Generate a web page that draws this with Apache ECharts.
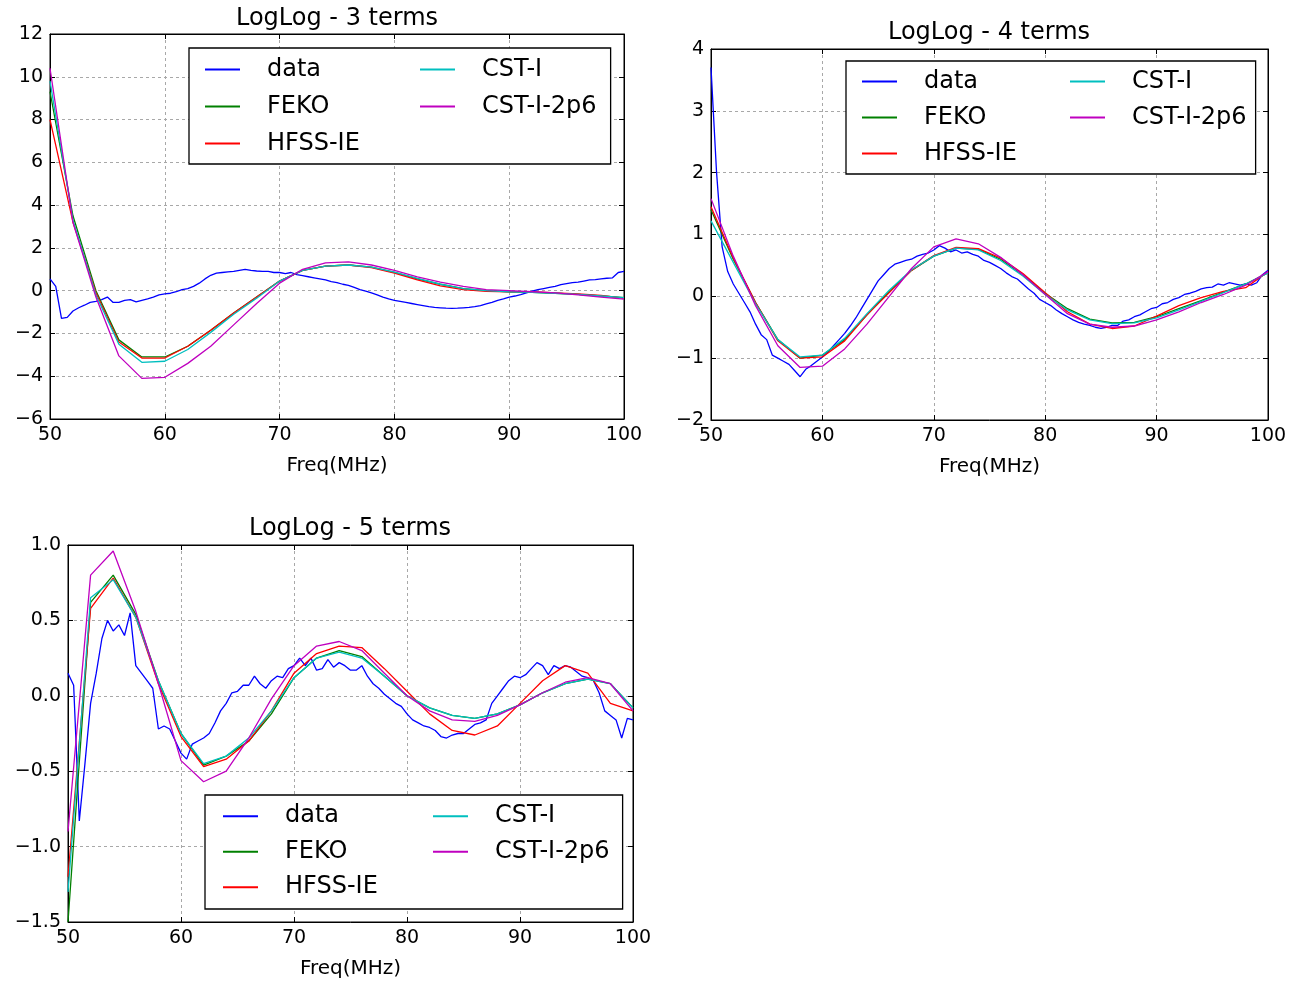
<!DOCTYPE html>
<html>
<head>
<meta charset="utf-8">
<script src="https://cdn.jsdelivr.net/npm/echarts@6/dist/echarts.min.js"></script>
<style>
  html, body { margin: 0; padding: 0; background: #fff; }
  #chart { width: 1299px; height: 982px; }
</style>
</head>
<body>
<div id="chart"></div>
<script>
// Series names and colours (classic matplotlib b, g, r, c, m)
const seriesNames = ['data', 'FEKO', 'HFSS-IE', 'CST-I', 'CST-I-2p6'];
const seriesColors = ['#0000ff', '#008000', '#ff0000', '#00bfbf', '#bf00bf'];

// Measured data: sampled every 0.5 MHz from 50 to 100 MHz
const freqFineStart = 50, freqFineStep = 0.5, freqFineCount = 101;
// Model curves: sampled every 2 MHz
const freqModel = [50, 52, 54, 56, 58, 60, 62, 64, 66, 68, 70, 72, 74, 76, 78, 80, 82, 84, 86, 88, 90, 92, 94, 96, 98, 100];

// ---- LogLog - 3 terms ----
const data3 = [
  0.55, 0.2, -1.3, -1.25, -0.95, -0.8, -0.68, -0.55, -0.5, -0.42,
  -0.3, -0.55, -0.55, -0.45, -0.42, -0.52, -0.45, -0.38, -0.3, -0.2,
  -0.15, -0.12, -0.05, 0.05, 0.1, 0.2, 0.35, 0.55, 0.72, 0.82,
  0.85, 0.88, 0.9, 0.95, 1.0, 0.95, 0.92, 0.9, 0.9, 0.85,
  0.85, 0.8, 0.85, 0.75, 0.7, 0.65, 0.6, 0.55, 0.5, 0.42,
  0.38, 0.3, 0.25, 0.15, 0.05, -0.02, -0.1, -0.2, -0.3, -0.38,
  -0.45, -0.5, -0.55, -0.6, -0.65, -0.7, -0.75, -0.78, -0.8, -0.82,
  -0.83, -0.82, -0.8, -0.78, -0.75, -0.7, -0.62, -0.55, -0.45, -0.38,
  -0.3, -0.25, -0.18, -0.1, -0.02, 0.05, 0.1, 0.15, 0.2, 0.28,
  0.33, 0.38, 0.4, 0.45, 0.5, 0.52, 0.55, 0.58, 0.6, 0.85,
  0.9
];
const feko3 = [9.3, 3.5, 0.0, -2.3, -3.1, -3.1, -2.6, -1.85, -1.05, -0.3, 0.45, 0.95, 1.15, 1.2, 1.1, 0.85, 0.55, 0.3, 0.1, 0.0, -0.05, -0.08, -0.12, -0.17, -0.25, -0.33];
const hfss3 = [8.0, 3.2, -0.1, -2.4, -3.15, -3.15, -2.6, -1.85, -1.05, -0.3, 0.45, 0.95, 1.15, 1.2, 1.08, 0.82, 0.5, 0.22, 0.05, -0.03, -0.05, -0.05, -0.1, -0.15, -0.22, -0.35];
const cst3 = [9.8, 3.3, -0.2, -2.5, -3.35, -3.3, -2.75, -1.95, -1.1, -0.35, 0.45, 0.95, 1.15, 1.2, 1.1, 0.87, 0.57, 0.3, 0.1, 0.0, -0.05, -0.08, -0.12, -0.17, -0.25, -0.33];
const cst2p6_3 = [10.4, 3.2, -0.3, -3.05, -4.1, -4.05, -3.4, -2.6, -1.6, -0.6, 0.35, 1.0, 1.3, 1.35, 1.2, 0.95, 0.65, 0.4, 0.2, 0.05, 0.0, -0.05, -0.1, -0.2, -0.3, -0.4];

// ---- LogLog - 4 terms ----
const data4 = [
  3.7, 2.0, 0.8, 0.4, 0.2, 0.05, -0.1, -0.25, -0.45, -0.62,
  -0.7, -0.95, -1.0, -1.05, -1.1, -1.2, -1.3, -1.18, -1.12, -1.05,
  -0.98, -0.9, -0.8, -0.7, -0.6, -0.48, -0.35, -0.2, -0.05, 0.1,
  0.25, 0.35, 0.45, 0.52, 0.55, 0.58, 0.6, 0.65, 0.68, 0.7,
  0.75, 0.82, 0.78, 0.72, 0.75, 0.7, 0.72, 0.68, 0.65, 0.58,
  0.55, 0.5, 0.45, 0.38, 0.32, 0.28, 0.2, 0.12, 0.05, -0.05,
  -0.1, -0.15, -0.22, -0.28, -0.33, -0.38, -0.42, -0.45, -0.47, -0.5,
  -0.52, -0.5, -0.47, -0.47, -0.4, -0.38, -0.33, -0.3, -0.25, -0.2,
  -0.18, -0.12, -0.1, -0.05, -0.02, 0.03, 0.05, 0.08, 0.12, 0.14,
  0.15, 0.2, 0.18, 0.22, 0.2, 0.18, 0.2, 0.18, 0.22, 0.35,
  0.42
];
const feko4 = [1.4, 0.6, -0.1, -0.7, -1.0, -0.95, -0.7, -0.3, 0.08, 0.42, 0.65, 0.78, 0.76, 0.6, 0.35, 0.05, -0.2, -0.37, -0.43, -0.42, -0.33, -0.2, -0.07, 0.07, 0.2, 0.38];
const hfss4 = [1.45, 0.62, -0.1, -0.72, -1.0, -0.98, -0.72, -0.3, 0.06, 0.42, 0.66, 0.79, 0.77, 0.62, 0.37, 0.06, -0.25, -0.45, -0.52, -0.48, -0.32, -0.15, -0.02, 0.08, 0.14, 0.4];
const cst4 = [1.22, 0.55, -0.12, -0.7, -0.98, -0.95, -0.68, -0.28, 0.1, 0.43, 0.65, 0.78, 0.75, 0.58, 0.33, 0.03, -0.22, -0.38, -0.44, -0.43, -0.35, -0.22, -0.08, 0.06, 0.2, 0.38];
const cst2p6_4 = [1.58, 0.65, -0.15, -0.8, -1.15, -1.13, -0.85, -0.45, 0.0, 0.45, 0.8, 0.93, 0.85, 0.63, 0.35, 0.03, -0.28, -0.45, -0.5, -0.48, -0.38, -0.25, -0.1, 0.03, 0.18, 0.4];

// ---- LogLog - 5 terms ----
const data5 = [
  0.15, 0.07, -0.83, -0.45, -0.05, 0.15, 0.38, 0.5, 0.43, 0.47,
  0.4, 0.55, 0.2, 0.15, 0.1, 0.05, -0.22, -0.2, -0.22, -0.3,
  -0.38, -0.42, -0.32, -0.3, -0.28, -0.25, -0.18, -0.1, -0.05, 0.02,
  0.03, 0.07, 0.07, 0.13, 0.08, 0.05, 0.1, 0.13, 0.12, 0.18,
  0.2, 0.25, 0.2, 0.25, 0.17, 0.18, 0.24, 0.19, 0.22, 0.2,
  0.17, 0.17, 0.2, 0.13, 0.08, 0.05, 0.01, -0.02, -0.05, -0.07,
  -0.12, -0.16, -0.18, -0.2, -0.21, -0.23, -0.27, -0.28, -0.26, -0.25,
  -0.25, -0.22, -0.19, -0.18, -0.16, -0.05, 0.0, 0.05, 0.1, 0.13,
  0.12, 0.14, 0.18, 0.22, 0.2, 0.14, 0.2, 0.18, 0.2, 0.19,
  0.16, 0.13, 0.12, 0.1, 0.02, -0.1, -0.13, -0.16, -0.28, -0.15,
  -0.16
];
const feko5 = [-1.5, 0.62, 0.8, 0.54, 0.1, -0.25, -0.46, -0.4, -0.3, -0.12, 0.12, 0.25, 0.3, 0.26, 0.13, 0.0, -0.08, -0.13, -0.15, -0.12, -0.06, 0.02, 0.08, 0.11, 0.08, -0.08];
const hfss5 = [-1.2, 0.58, 0.78, 0.52, 0.08, -0.27, -0.47, -0.42, -0.3, -0.1, 0.15, 0.28, 0.33, 0.32, 0.18, 0.03, -0.12, -0.23, -0.26, -0.2, -0.05, 0.1, 0.2, 0.15, -0.05, -0.1];
const cst5 = [-1.3, 0.65, 0.77, 0.52, 0.1, -0.25, -0.45, -0.4, -0.28, -0.1, 0.12, 0.25, 0.29, 0.25, 0.13, 0.0, -0.08, -0.13, -0.15, -0.12, -0.06, 0.02, 0.08, 0.11, 0.08, -0.08];
const cst2p6_5 = [-0.9, 0.8, 0.96, 0.56, 0.08, -0.43, -0.57, -0.5, -0.28, -0.02, 0.2, 0.33, 0.36, 0.3, 0.15, 0.0, -0.1, -0.16, -0.17, -0.13, -0.06, 0.02, 0.09, 0.12, 0.08, -0.1];

// Axis ranges and tick labels for each panel
const xTicks = [50, 60, 70, 80, 90, 100];
const yTicks3 = [-6, -4, -2, 0, 2, 4, 6, 8, 10, 12];
const yTicks4 = [-2, -1, 0, 1, 2, 3, 4];
const yTicks5 = [-1.5, -1.0, -0.5, 0.0, 0.5, 1.0];
const titles = ['LogLog - 3 terms', 'LogLog - 4 terms', 'LogLog - 5 terms'];
const xName = 'Freq(MHz)';

const freqFine = [];
for (let i = 0; i < freqFineCount; i++) freqFine.push(freqFineStart + i * freqFineStep);

const panels = [
  { values: [data3, feko3, hfss3, cst3, cst2p6_3], yTicks: yTicks3, decimals: 0 },
  { values: [data4, feko4, hfss4, cst4, cst2p6_4], yTicks: yTicks4, decimals: 0 },
  { values: [data5, feko5, hfss5, cst5, cst2p6_5], yTicks: yTicks5, decimals: 1 }
];

// Layout of each panel (plot box, title, legend box)
const layout = [
  { grid: { left: 50, top: 34, width: 574, height: 385 }, titleX: 337, titleY: 7,
    legend: { left: 189, top: 48, pad: [3, 14, 2, 16], lh: 37, colW: 153 } },
  { grid: { left: 711, top: 49, width: 557, height: 371 }, titleX: 989, titleY: 21,
    legend: { left: 846, top: 61, pad: [2.5, 9, 2.5, 16], lh: 36, colW: 146 } },
  { grid: { left: 68, top: 545, width: 565, height: 377 }, titleX: 350, titleY: 517,
    legend: { left: 205, top: 795, pad: [3.5, 13, 4, 18], lh: 35.5, colW: 148 } }
];

const FONT = "'DejaVu Sans', 'Liberation Sans', sans-serif";
const fmtMinus = s => String(s).replace('-', '\u2212');

const option = {
  animation: false,
  backgroundColor: '#ffffff',
  title: [], grid: [], xAxis: [], yAxis: [], legend: [], series: []
};

const tickStyle = { show: true, inside: true, length: 5, lineStyle: { color: '#000', width: 1 } };
const gridLine = { show: true, lineStyle: { color: '#a8a8a8', type: [3, 3], width: 1 } };
const frameLine = { show: true, onZero: false, lineStyle: { color: '#000', width: 1 } };

panels.forEach((p, k) => {
  const L = layout[k];
  option.title.push({
    text: titles[k], left: L.titleX, top: L.titleY, textAlign: 'center', padding: 0,
    textStyle: { fontFamily: FONT, fontSize: 24, fontWeight: 'normal', color: '#000' }
  });
  option.grid.push(Object.assign({ show: true, borderColor: '#000', borderWidth: 1, backgroundColor: '#fff' }, L.grid));

  const yMin = p.yTicks[0], yMax = p.yTicks[p.yTicks.length - 1];
  const yStep = p.yTicks[1] - p.yTicks[0];
  const xMin = xTicks[0], xMax = xTicks[xTicks.length - 1];
  const xStep = xTicks[1] - xTicks[0];

  // bottom axis with labels
  option.xAxis.push({
    type: 'value', gridIndex: k, min: xMin, max: xMax, interval: xStep, position: 'bottom',
    name: xName, nameLocation: 'middle', nameGap: 37,
    nameTextStyle: { fontFamily: FONT, fontSize: 20, color: '#000' },
    axisLine: frameLine,
    axisTick: tickStyle,
    axisLabel: { margin: 7, fontFamily: FONT, fontSize: 19, color: '#000', formatter: v => fmtMinus(v) },
    splitLine: gridLine
  });
  // top mirror axis carrying only ticks
  option.xAxis.push({
    type: 'value', gridIndex: k, min: xMin, max: xMax, interval: xStep, position: 'top',
    axisLine: frameLine,
    axisTick: tickStyle, axisLabel: { show: false }, splitLine: { show: false }
  });
  option.yAxis.push({
    type: 'value', gridIndex: k, min: yMin, max: yMax, interval: yStep, position: 'left',
    axisLine: frameLine,
    axisTick: tickStyle,
    axisLabel: { margin: 7, fontFamily: FONT, fontSize: 19, color: '#000',
      formatter: v => fmtMinus(Number(v).toFixed(p.decimals)) },
    splitLine: gridLine
  });
  option.yAxis.push({
    type: 'value', gridIndex: k, min: yMin, max: yMax, interval: yStep, position: 'right',
    axisLine: frameLine,
    axisTick: tickStyle, axisLabel: { show: false }, splitLine: { show: false }
  });

  const lg = L.legend;
  option.legend.push({
    orient: 'vertical', left: lg.left, top: lg.top,
    height: lg.pad[0] + lg.pad[2] + lg.lh * 3 + 10,
    padding: lg.pad, itemGap: 0,
    borderColor: '#000', borderWidth: 1.3, backgroundColor: '#fff',
    icon: 'rect', itemWidth: 35, itemHeight: 2,
    textStyle: { fontFamily: FONT, fontSize: 24, color: '#000', lineHeight: lg.lh, padding: [0, 0, 0, 22] },
    data: seriesNames.map((n, i) => i < 3 ? { name: n, textStyle: { width: lg.colW } } : { name: n })
  });

  seriesNames.forEach((name, i) => {
    const xs = i === 0 ? freqFine : freqModel;
    option.series.push({
      type: 'line', name: name, xAxisIndex: 2 * k, yAxisIndex: 2 * k,
      showSymbol: false, symbol: 'none', smooth: false,
      lineStyle: { color: seriesColors[i], width: 1.3 },
      itemStyle: { color: seriesColors[i] },
      data: xs.map((x, j) => [x, p.values[i][j]]),
      z: 2 + i
    });
  });
});

const chart = echarts.init(document.getElementById('chart'), null, { renderer: 'canvas' });
chart.setOption(option);
</script>
</body>
</html>
